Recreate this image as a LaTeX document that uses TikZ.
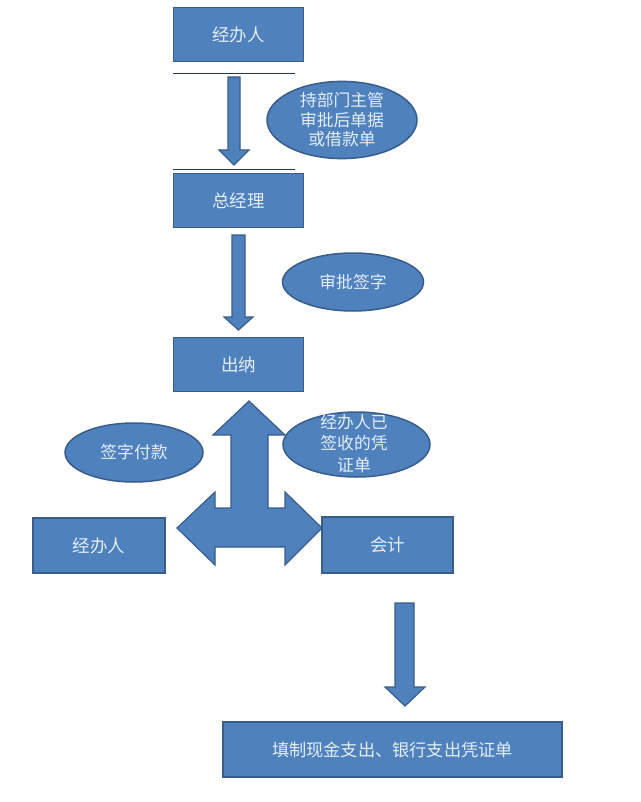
\documentclass[tikz,border=0pt]{standalone}
\usepackage{fontspec}
\setmainfont{Noto Sans CJK SC}
\usetikzlibrary{shapes.geometric}
\definecolor{boxfill}{RGB}{79,129,189}
\definecolor{boxline}{RGB}{56,93,138}
\definecolor{txt}{RGB}{228,238,248}
\tikzset{
  procbox/.style={draw=boxline, line width=1.5pt, fill=boxfill, text=txt, minimum width=130pt, minimum height=54pt, inner sep=0pt, font=\fontsize{17.5}{20}\selectfont},
  note/.style={ellipse, draw=boxline, line width=1.5pt, fill=boxfill, text=txt, inner sep=0pt, align=center, font=\fontsize{16.8}{20}\selectfont},
  blockarrow/.style={draw=boxline, line width=1.2pt, fill=boxfill, line join=miter},
  sepline/.style={draw=boxline!60!black, line width=1pt}
}
\begin{document}
\begin{tikzpicture}[x=1pt,y=-1pt]
\useasboundingbox (0,0) rectangle (640,802);
\fill[white] (0,0) rectangle (640,802);
% boxes
\node[procbox] (top) at (238.5,34.5) {经办人};
\node[procbox] (gm) at (238.5,200.5) {总经理};
\node[procbox] (cash) at (238.5,364.5) {出纳};
\node[procbox, minimum width=132pt, minimum height=55pt] (agent) at (99,545.5) {经办人};
\node[procbox, minimum width=131pt, minimum height=56pt] (acct) at (387.5,545) {会计};
\node[procbox, minimum width=339pt, minimum height=55pt, font=\fontsize{17.2}{20}\selectfont] (fill) at (392.5,749.5) {填制现金支出、银行支出凭证单};
% separator lines
\coordinate (l1a) at (173,74); \coordinate (l1b) at (295,74);
\coordinate (l2a) at (173,170); \coordinate (l2b) at (295,170);
\draw[sepline] (l1a) -- (l1b);
\draw[sepline] (l2a) -- (l2b);
% ellipses
\node[note, minimum width=150pt, minimum height=64pt] (e1) at (342,120) {持部门主管\\[-0.5pt]审批后单据\\[-0.5pt]或借款单};
\node[note, minimum width=141pt, minimum height=58pt] (e2) at (353,282) {审批签字};
\node[note, minimum width=138pt, minimum height=59pt] (e3) at (134,452.5) {签字付款};
\node[note, minimum width=147pt, minimum height=65pt, text depth=0pt] (e4) at (356.5,444.5) {};
\node[text=txt, align=center, font=\fontsize{16.8}{21.5}\selectfont, inner sep=0pt] (e4t) at (354,443.5) {经办人已\\签收的凭\\证单};
% block arrows
\draw[blockarrow] (228,77) -- (240,77) -- (240,150) -- (249,150) -- (234,165) -- (219,150) -- (228,150) -- cycle;
\draw[blockarrow] (232,235) -- (245,235) -- (245,317) -- (253,317) -- (238.5,330) -- (224,317) -- (232,317) -- cycle;
\draw[blockarrow] (395,603) -- (414,603) -- (414,687) -- (425,687) -- (405,706) -- (385,687) -- (395,687) -- cycle;
\draw[blockarrow] (249,401) -- (285,435) -- (268,435) -- (268,508) -- (285,508) -- (285,492) -- (322,528) -- (285,565) -- (285,547) -- (215,547) -- (215,565) -- (177,528) -- (215,492) -- (215,508) -- (231,508) -- (231,435) -- (213,435) -- cycle;
\end{tikzpicture}
\end{document}
